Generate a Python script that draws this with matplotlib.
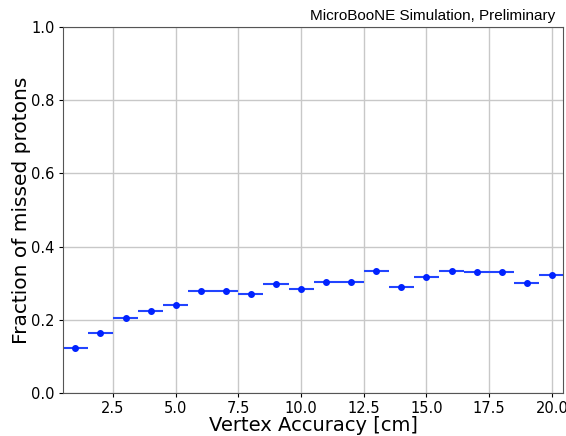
import numpy as np
import matplotlib
matplotlib.use("Agg")
import matplotlib.pyplot as plt

# Vertex accuracy bins (cm) and fraction of missed protons
vtx = np.arange(1, 21)
frac = [0.122, 0.163, 0.205, 0.225, 0.241, 0.280, 0.279, 0.270, 0.298, 0.285,
        0.303, 0.303, 0.334, 0.289, 0.317, 0.333, 0.330, 0.331, 0.301, 0.322]
xerr = 0.5

fig = plt.figure(figsize=(5.66, 4.36), dpi=100)
ax = fig.add_axes([0.111, 0.0986, 0.884, 0.8394])

ax.errorbar(vtx, frac, xerr=xerr, fmt="o", color="#0022ff", ms=4,
            ecolor="#2244ff", elinewidth=1.5, capsize=0)

ax.set_xlim(0.5, 20.45)
ax.set_ylim(0.0, 1.0)
ax.set_xticks([2.5, 5.0, 7.5, 10.0, 12.5, 15.0, 17.5, 20.0])
ax.set_yticks([0.0, 0.2, 0.4, 0.6, 0.8, 1.0])
ax.grid(True, color="#c8c8c8", linewidth=1)
ax.set_axisbelow(True)
ax.tick_params(labelsize=10.5, length=3, pad=3)
for s in ax.spines.values():
    s.set_color("#555555")

ax.set_xlabel("Vertex Accuracy [cm]", fontsize=14, labelpad=0)
ax.set_ylabel("Fraction of missed protons", fontsize=14.5, labelpad=0)
ax.text(0.985, 1.012, "MicroBooNE Simulation, Preliminary", transform=ax.transAxes,
        ha="right", va="bottom", fontsize=11, family=["Liberation Sans", "DejaVu Sans"])

fig.savefig("out.png")
